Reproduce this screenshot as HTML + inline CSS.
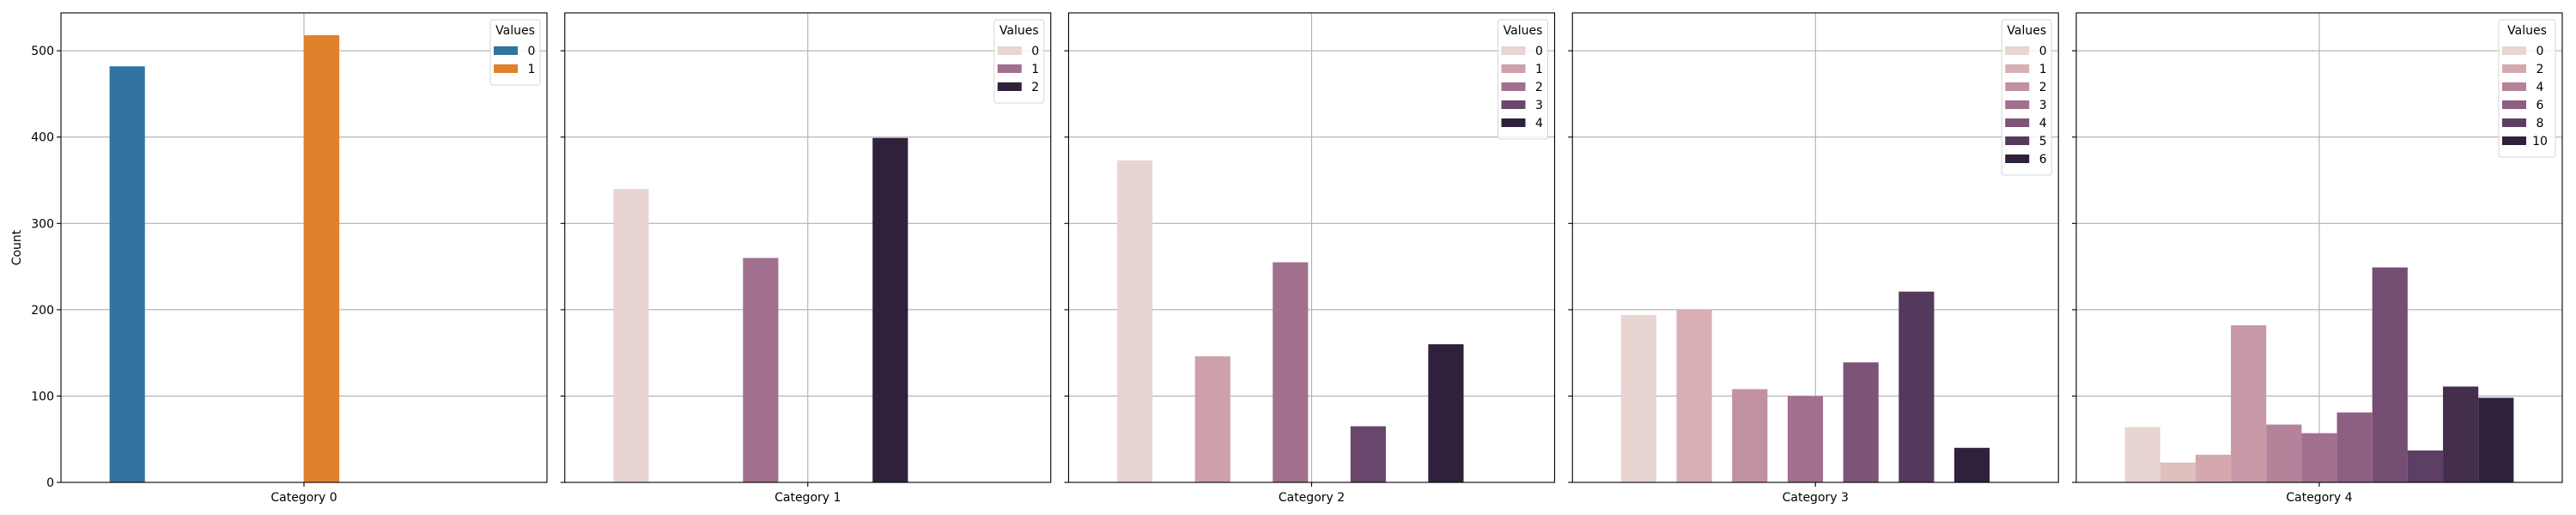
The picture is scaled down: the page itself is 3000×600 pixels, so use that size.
<!DOCTYPE html>
<html><head><meta charset="utf-8"><style>
html,body{margin:0;padding:0;background:#fff;}
svg{display:block;font-family:"DejaVu Sans","Liberation Sans",sans-serif;}
</style></head><body>
<svg id="chart" width="3000" height="600" viewBox="0 0 3000 600"></svg>
<script>
const categories = ["Category 0","Category 1","Category 2","Category 3","Category 4"];
const hueLevels0 = [0,1];
const counts0 = [482,518];
const hueLevels1 = [0,1,2];
const counts1 = [340,260,399];
const hueLevels2 = [0,1,2,3,4];
const counts2 = [373,146,255,65,160];
const hueLevels3 = [0,1,2,3,4,5,6];
const counts3 = [194,200,108,100,139,221,40];
const hueLevels4 = [0,1,2,3,4,5,6,7,8,9,10];
const counts4 = [64,23,32,182,67,57,81,249,37,111,98];
const yTicks = [0,100,200,300,400,500];
const legendLabels4 = [0,2,4,6,8,10];

const panels = [
  {levels:hueLevels0, counts:counts0, legend:hueLevels0},
  {levels:hueLevels1, counts:counts1, legend:hueLevels1},
  {levels:hueLevels2, counts:counts2, legend:hueLevels2},
  {levels:hueLevels3, counts:counts3, legend:hueLevels3},
  {levels:hueLevels4, counts:counts4, legend:legendLabels4}
];
const catColors = ["#3274a1","#e1812c"];
const ramp = ["#e8d4d0","#dfc0bf","#d4a8ae","#c798a5","#b4839a","#a1708e","#8d5f83","#754f73","#5d3f64","#432e4d","#2f213b"];
function hex(c){return [1,3,5].map(i=>parseInt(c.substr(i,2),16));}
function rampColor(t){
  const p=t*(ramp.length-1), i=Math.min(Math.floor(p),ramp.length-2), f=p-i;
  const a=hex(ramp[i]), b=hex(ramp[i+1]);
  return "rgb("+a.map((v,k)=>Math.round(v+(b[k]-v)*f)).join(",")+")";
}
const svgEl=document.getElementById('chart');
const NS="http://www.w3.org/2000/svg";
function mk(tag,attrs,parent){const e=document.createElementNS(NS,tag);for(const k in attrs)e.setAttribute(k,attrs[k]);(parent||svgEl).appendChild(e);return e;}

const topY=15, bottomY=562, pw=566, step=586.75, left0=71;
const allMax=Math.max(...counts0,...counts1,...counts2,...counts3,...counts4);
const yMax=allMax*1.05;
function yS(v){return bottomY-(v/yMax)*(bottomY-topY);}

const yl=mk('text',{x:24,y:(topY+bottomY)/2,'font-size':14,'text-anchor':'middle',transform:'rotate(-90 24 '+((topY+bottomY)/2)+')'});
yl.textContent="Count";



panels.forEach((p,k)=>{
  const L=left0+k*step;
  function xS(u){return L+(u+0.5)*pw;}
  const g=mk('g',{});
  
  
  yTicks.forEach(t=>{
    const gl=mk('line',{x1:L,x2:L+pw,y1:yS(t),y2:yS(t),stroke:'#b0b0b0','stroke-width':1.1},g);
    
    
  });
  const vg=mk('line',{x1:xS(0),x2:xS(0),y1:topY,y2:bottomY,stroke:'#b0b0b0','stroke-width':1.1},g);
  
  
  const n=p.levels.length, bw=0.8/11;
  p.levels.forEach((lv,i)=>{
    const u=-0.4+i*0.8/n;
    const col = k===0 ? catColors[i] : rampColor(n>1? i/(n-1):0);
    const r=mk('rect',{x:xS(u),y:yS(p.counts[i]),width:bw*pw,height:bottomY-yS(p.counts[i]),fill:col},g);
    
    
  });
  const sp=mk('rect',{x:L,y:topY,width:pw,height:bottomY-topY,fill:'none',stroke:'#000','stroke-width':1.1},g);
  
  
  yTicks.forEach(t=>{
    mk('line',{x1:L-5,x2:L,y1:yS(t),y2:yS(t),stroke:'#000','stroke-width':1.1},g);
    if(k===0){
      const tl=mk('text',{x:L-8,y:yS(t)+5,'font-size':14,'text-anchor':'end'},g);
      tl.textContent=t;
      
      
    }
  });
  mk('line',{x1:xS(0),x2:xS(0),y1:bottomY,y2:bottomY+5,stroke:'#000','stroke-width':1.1},g);
  const xl=mk('text',{x:xS(0),y:bottomY+22,'font-size':14,'text-anchor':'middle'},g);
  xl.textContent=categories[k];
  
  
  const lg=mk('g',{},g);
  
  
  const lw = k===4?66:58, lh=34+p.legend.length*21;
  const lx=L+pw-8-lw, ly=topY+8;
  mk('rect',{x:lx,y:ly,width:lw,height:lh,rx:3,fill:'#fff','fill-opacity':0.8,stroke:'#d6d6d6','stroke-width':1},lg);
  const lt=mk('text',{x:lx+lw/2,y:ly+17,'font-size':14,'text-anchor':'middle'},lg);
  lt.textContent="Values";
  
  
  p.legend.forEach((lv,j)=>{
    const maxLv=p.levels[p.levels.length-1];
    const col = k===0 ? catColors[j] : rampColor(maxLv? lv/maxLv:0);
    const yy=ly+31+j*21;
    const sw=mk('rect',{x:lx+4,y:yy,width:28,height:10,fill:col},lg);
    
    
    const tx=mk('text',{x:lx+48,y:yy+10,'font-size':14,'text-anchor':'middle'},lg);
    tx.textContent=lv;
    
    
  });
});
</script>
</body></html>
